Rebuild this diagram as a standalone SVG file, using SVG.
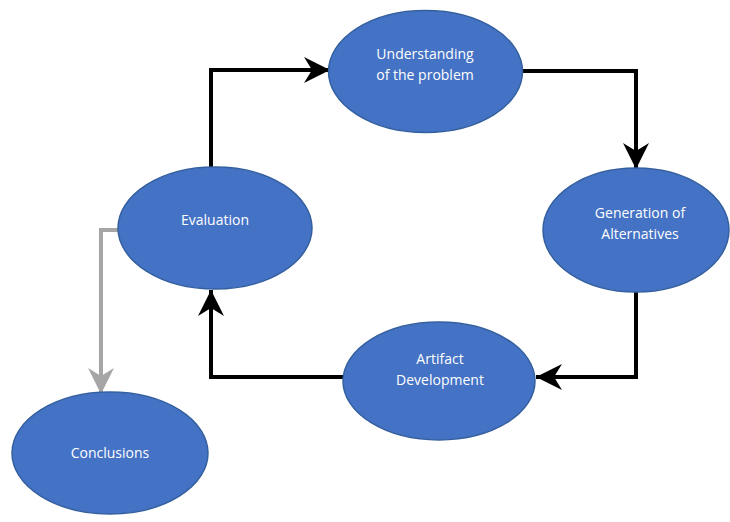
<svg xmlns="http://www.w3.org/2000/svg" width="730" height="522" viewBox="0 0 730 522">
<style>
.n{fill:#4472C4;stroke:#35609f;stroke-width:1.5}
.t{fill:#ffffff;font-family:"Open Sans","Liberation Sans",sans-serif;font-size:14px;text-anchor:middle}
.c{fill:none;stroke:#000;stroke-width:4}
.g{fill:none;stroke:#a6a6a6;stroke-width:4}
</style>
<defs>
<marker id="ab" markerUnits="userSpaceOnUse" markerWidth="28" markerHeight="28" refX="26" refY="13" orient="auto" viewBox="0 0 28 26">
<path d="M0,0 L26,13 L0,26 L8,13 Z" fill="#000"/>
</marker>
<marker id="ag" markerUnits="userSpaceOnUse" markerWidth="28" markerHeight="28" refX="26" refY="13" orient="auto" viewBox="0 0 28 26">
<path d="M0,0 L26,13 L0,26 L8,13 Z" fill="#a6a6a6"/>
</marker>
</defs>
<g id="connectors">
<path class="c" d="M211,167 V70 H330" marker-end="url(#ab)"/>
<path class="c" d="M523,71 H636 V169" marker-end="url(#ab)"/>
<path class="c" d="M636,292 V377 H536" marker-end="url(#ab)"/>
<path class="c" d="M343,377 H211 V290" marker-end="url(#ab)"/>
<path class="g" d="M118,230 H101 V394" marker-end="url(#ag)"/>
</g>
<g id="understanding">
<ellipse class="n" cx="425.5" cy="71.5" rx="97" ry="61"/>
<text class="t" x="425" y="59">Understanding</text>
<text class="t" x="425" y="80">of the problem</text>
</g>
<g id="generation">
<ellipse class="n" cx="636" cy="230" rx="93" ry="62"/>
<text class="t" x="640" y="218">Generation of</text>
<text class="t" x="640" y="239">Alternatives</text>
</g>
<g id="artifact">
<ellipse class="n" cx="439" cy="381" rx="96" ry="59"/>
<text class="t" x="440" y="364">Artifact</text>
<text class="t" x="440" y="385">Development</text>
</g>
<g id="evaluation">
<ellipse class="n" cx="215" cy="228" rx="97" ry="61"/>
<text class="t" x="215" y="225">Evaluation</text>
</g>
<g id="conclusions">
<ellipse class="n" cx="110" cy="453" rx="98" ry="61"/>
<text class="t" x="110" y="458">Conclusions</text>
</g>
</svg>
